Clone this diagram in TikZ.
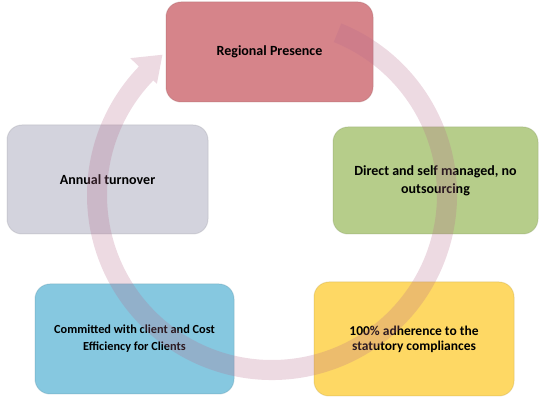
\documentclass[tikz,border=0pt]{standalone}
\usepackage{fontspec}
\setmainfont{Carlito}
\usetikzlibrary{positioning}
\definecolor{presence}{HTML}{D6848A}
\definecolor{turnover}{HTML}{D3D3DD}
\definecolor{direct}{HTML}{B6CD8A}
\definecolor{committed}{HTML}{86C8E0}
\definecolor{statutory}{HTML}{FED864}
\definecolor{ringpink}{RGB}{183,107,139}

\begin{document}
\begin{tikzpicture}[x=1pt,y=1pt,font=\fontsize{14}{18}\selectfont\bfseries,
 box/.style={rounded corners=15pt,align=center,inner sep=4pt,fill=#1,draw=#1!80!black,draw opacity=0.35,line width=1pt}]
\useasboundingbox (0,0) rectangle (550,407);
\node[box=presence,minimum width=207pt,minimum height=100pt] (presence) at (269.5,355) {Regional Presence};
\node[box=turnover,minimum width=201pt,minimum height=109pt] (turnover) at (107.5,227.5) {Annual turnover};
\node[box=direct,minimum width=205pt,minimum height=107pt] (direct) at (435.5,226.5) {Direct and self managed, no\\outsourcing};
\node[box=committed,minimum width=199pt,minimum height=110pt,font=\fontsize{12.3}{17}\selectfont\bfseries] (committed) at (134.5,68) {Committed with client and Cost\\Efficiency for Clients};
\node[box=statutory,minimum width=200pt,minimum height=114pt,font=\fontsize{13.5}{15}\selectfont\bfseries] (statutory) at (414,68) {100\% adherence to the\\statutory compliances};
% the circular arrow lies over the boxes, see-through
\begin{scope}[shift={(272,212)}]
 \fill[ringpink,fill opacity=0.25] (68:185) arc[start angle=68,end angle=-224,radius=185] -- (-224:197) -- (-232:178) -- (-224:160) -- (-224:165) arc[start angle=-224,end angle=68,radius=165] -- cycle;
\end{scope}
\end{tikzpicture}
\end{document}
